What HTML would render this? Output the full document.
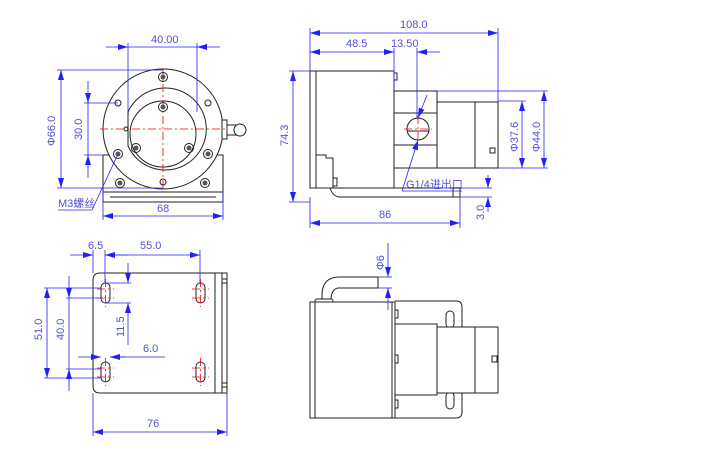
<!DOCTYPE html>
<html><head><meta charset="utf-8"><style>
html,body{margin:0;padding:0;background:#fff;}
svg{display:block}
text{font-family:"Liberation Sans","Noto Sans CJK SC",sans-serif;fill:#5050e0;font-size:11px}
.k{stroke:#222;fill:none;stroke-width:1}
.kw{stroke:#222;fill:#fff;stroke-width:1}
.b{stroke:#2020ff;fill:none;stroke-width:0.8}
.r{stroke:#f00;fill:none;stroke-width:0.8;stroke-dasharray:8 3 2 3}
.ar{fill:#2020ff}
</style></head><body>
<svg width="706" height="456" viewBox="0 0 706 456" xmlns="http://www.w3.org/2000/svg">
<defs>
<marker id="a" markerWidth="10" markerHeight="6" refX="10" refY="3" orient="auto" markerUnits="userSpaceOnUse"><path d="M0,0L10,3L0,6z" fill="#2020ff"/></marker>
<marker id="s" markerWidth="10" markerHeight="6" refX="0" refY="3" orient="auto" markerUnits="userSpaceOnUse"><path d="M10,0L0,3L10,6z" fill="#2020ff"/></marker>
<g id="scr"><circle r="4.5" class="k" fill="#fff"/><circle r="2.5" fill="#555"/></g>
</defs>

<!-- ===== Front view (top-left) ===== -->
<rect x="103" y="155" width="120" height="37" class="kw"/>
<rect x="103" y="192" width="120" height="10" class="kw"/>
<line x1="110" y1="197" x2="216" y2="197" class="k"/>
<circle cx="163" cy="129" r="60" class="kw"/>
<path d="M128,112 A41,41 0 1 1 128,146 Z" class="k"/>
<circle cx="163" cy="134" r="33" class="k"/>
<rect x="222" y="120" width="5" height="19" class="kw"/>
<path d="M227,125 L238,125 M227,135 L238,135" class="k"/>
<circle cx="240" cy="130" r="6" class="kw"/>
<circle cx="126" cy="129" r="2" class="k"/>
<line x1="100" y1="129" x2="228" y2="129" class="r"/>
<line x1="163" y1="68" x2="163" y2="192" class="r"/>
<use href="#scr" x="163" y="77"/><use href="#scr" x="163" y="107"/>
<use href="#scr" x="136" y="148"/><use href="#scr" x="189" y="148"/>
<use href="#scr" x="118" y="154"/><use href="#scr" x="208" y="154"/>
<use href="#scr" x="120" y="183"/><use href="#scr" x="205" y="183"/>
<circle cx="118" cy="103" r="3" class="k"/><circle cx="208" cy="103" r="3" class="k"/>
<circle cx="163" cy="182" r="3" class="k"/>
<!-- dims -->
<line x1="128" y1="43" x2="128" y2="112" class="b"/><line x1="197" y1="43" x2="197" y2="112" class="b"/>
<line x1="106" y1="47" x2="128" y2="47" class="b" marker-end="url(#a)"/>
<line x1="128" y1="47" x2="197" y2="47" class="b"/>
<line x1="220" y1="47" x2="197" y2="47" class="b" marker-end="url(#a)"/>
<text x="151" y="43">40.00</text>
<line x1="57" y1="70" x2="163" y2="70" class="b"/><line x1="57" y1="188" x2="163" y2="188" class="b"/>
<line x1="61" y1="70" x2="61" y2="188" class="b" marker-start="url(#s)" marker-end="url(#a)"/>
<text transform="translate(55,146) rotate(-90)">Φ66.0</text>
<line x1="84" y1="103" x2="118" y2="103" class="b"/><line x1="84" y1="155" x2="103" y2="155" class="b"/>
<line x1="88" y1="81" x2="88" y2="103" class="b" marker-end="url(#a)"/>
<line x1="88" y1="103" x2="88" y2="155" class="b"/>
<line x1="88" y1="178" x2="88" y2="155" class="b" marker-end="url(#a)"/>
<text transform="translate(82,140) rotate(-90)">30.0</text>
<line x1="103" y1="192" x2="103" y2="220" class="b"/><line x1="223" y1="192" x2="223" y2="220" class="b"/>
<line x1="103" y1="216" x2="223" y2="216" class="b" marker-start="url(#s)" marker-end="url(#a)"/>
<text x="157" y="212">68</text>
<line x1="118" y1="154" x2="92" y2="210" class="b"/><line x1="92" y1="210" x2="58" y2="210" class="b"/>
<text x="58" y="207" font-size="10">M3螺丝</text>

<!-- ===== Side view (top-right) ===== -->
<rect x="310" y="71" width="84" height="117" class="kw"/>
<line x1="316" y1="71" x2="316" y2="188" class="k"/>
<path d="M316,155 L326,155 L326,158 L333,158 L333,188" class="k"/>
<path d="M310,188 L330,188 Q333,197 340,197 L460,197 L460,188 L340,188" class="k"/>
<line x1="453" y1="188" x2="453" y2="197" class="k"/>
<path d="M394,73 L397,73 L397,80 L394,80 M394,150 L397,150 L397,157 L394,157" class="k"/>
<rect x="333" y="178" width="4" height="8" class="k"/>
<rect x="394" y="91" width="43" height="77" class="kw"/>
<line x1="394" y1="113" x2="437" y2="113" class="k"/><line x1="394" y1="145" x2="437" y2="145" class="k"/>
<circle cx="418" cy="129" r="11" class="kw"/>
<line x1="407" y1="131" x2="429" y2="131" class="k"/>
<line x1="404" y1="129" x2="432" y2="129" class="r" stroke-dasharray="4 2"/>
<line x1="418" y1="116" x2="418" y2="142" class="r" stroke-dasharray="4 2"/>
<rect x="437" y="102" width="61" height="66" class="kw"/>
<line x1="475" y1="102" x2="475" y2="168" class="k"/>
<rect x="490" y="148" width="5" height="5" class="k"/>
<!-- dims -->
<line x1="310" y1="28" x2="310" y2="71" class="b"/><line x1="498" y1="28" x2="498" y2="102" class="b"/>
<line x1="310" y1="33" x2="498" y2="33" class="b" marker-start="url(#s)" marker-end="url(#a)"/>
<text x="400" y="28">108.0</text>
<line x1="394" y1="48" x2="394" y2="91" class="b"/><line x1="417" y1="48" x2="417" y2="118" class="b"/>
<line x1="310" y1="52" x2="394" y2="52" class="b" marker-start="url(#s)" marker-end="url(#a)"/>
<line x1="440" y1="52" x2="417" y2="52" class="b" marker-end="url(#a)"/>
<text x="346" y="47">48.5</text><text x="391" y="47">13.50</text>
<line x1="289" y1="71" x2="310" y2="71" class="b"/><line x1="289" y1="202" x2="310" y2="202" class="b"/>
<line x1="293" y1="71" x2="293" y2="202" class="b" marker-start="url(#s)" marker-end="url(#a)"/>
<text transform="translate(288,146) rotate(-90)">74.3</text>
<line x1="310" y1="197" x2="310" y2="228" class="b"/><line x1="460" y1="197" x2="460" y2="228" class="b"/>
<line x1="310" y1="223" x2="460" y2="223" class="b" marker-start="url(#s)" marker-end="url(#a)"/>
<text x="379" y="218">86</text>
<line x1="460" y1="188" x2="492" y2="188" class="b"/><line x1="460" y1="197" x2="492" y2="197" class="b"/>
<line x1="488" y1="175" x2="488" y2="188" class="b" marker-end="url(#a)"/>
<line x1="488" y1="212" x2="488" y2="197" class="b" marker-end="url(#a)"/>
<text transform="translate(484,220) rotate(-90)" font-size="10">3.0</text>
<line x1="498" y1="101" x2="526" y2="101" class="b"/><line x1="498" y1="168" x2="548" y2="168" class="b"/>
<line x1="437" y1="91" x2="548" y2="91" class="b"/>
<line x1="522" y1="101" x2="522" y2="168" class="b" marker-start="url(#s)" marker-end="url(#a)"/>
<line x1="544" y1="91" x2="544" y2="168" class="b" marker-start="url(#s)" marker-end="url(#a)"/>
<text transform="translate(518,152) rotate(-90)">Φ37.6</text>
<text transform="translate(540,152) rotate(-90)">Φ44.0</text>
<line x1="427" y1="95" x2="418" y2="118" class="b" marker-end="url(#a)"/>
<line x1="402" y1="191" x2="418" y2="140" class="b" marker-end="url(#a)"/>
<line x1="402" y1="191" x2="462" y2="191" class="b"/>
<text x="406" y="188" font-size="10">G1/4进出口</text>

<!-- ===== Bottom view (bottom-left) ===== -->
<path d="M100,273 L227,273 L227,393 L100,393 Q93,393 93,386 L93,280 Q93,273 100,273 Z" class="kw"/>
<line x1="215" y1="273" x2="215" y2="393" class="k"/><line x1="222" y1="273" x2="222" y2="393" class="k"/>
<rect x="222" y="279" width="5" height="4" class="k"/><rect x="222" y="383" width="5" height="4" class="k"/>
<g id="slot"><rect x="101" y="283" width="9" height="20" rx="4.5" class="k"/><line x1="97" y1="289" x2="114" y2="289" class="r" stroke-dasharray="2 2"/><line x1="97" y1="298" x2="114" y2="298" class="r" stroke-dasharray="2 2"/><line x1="105.5" y1="279" x2="105.5" y2="307" class="r" stroke-dasharray="3 2"/></g>
<use href="#slot" x="95"/><use href="#slot" y="79"/><use href="#slot" x="95" y="79"/>
<line x1="93" y1="250" x2="93" y2="273" class="b"/><line x1="105" y1="250" x2="105" y2="283" class="b"/>
<line x1="200" y1="250" x2="200" y2="283" class="b"/>
<line x1="70" y1="255" x2="93" y2="255" class="b" marker-end="url(#a)"/>
<line x1="128" y1="255" x2="105" y2="255" class="b" marker-end="url(#a)"/>
<line x1="105" y1="255" x2="200" y2="255" class="b" marker-end="url(#a)"/>
<text x="88" y="249">6.5</text><text x="140" y="249">55.0</text>
<line x1="105" y1="283" x2="131" y2="283" class="b"/><line x1="105" y1="303" x2="131" y2="303" class="b"/>
<line x1="128" y1="263" x2="128" y2="283" class="b" marker-end="url(#a)"/>
<line x1="128" y1="345" x2="128" y2="303" class="b" marker-end="url(#a)"/>
<text transform="translate(124,337) rotate(-90)">11.5</text>
<line x1="44" y1="288" x2="101" y2="288" class="b"/><line x1="44" y1="378" x2="101" y2="378" class="b"/>
<line x1="47" y1="288" x2="47" y2="378" class="b" marker-start="url(#s)" marker-end="url(#a)"/>
<text transform="translate(42,340) rotate(-90)">51.0</text>
<line x1="66" y1="298" x2="101" y2="298" class="b"/><line x1="66" y1="369" x2="101" y2="369" class="b"/>
<line x1="69" y1="276" x2="69" y2="298" class="b" marker-end="url(#a)"/>
<line x1="69" y1="298" x2="69" y2="369" class="b"/>
<line x1="69" y1="391" x2="69" y2="369" class="b" marker-end="url(#a)"/>
<text transform="translate(64,340) rotate(-90)">40.0</text>
<line x1="78" y1="357" x2="101" y2="357" class="b" marker-end="url(#a)"/>
<line x1="126" y1="357" x2="110" y2="357" class="b" marker-end="url(#a)"/>
<line x1="110" y1="357" x2="165" y2="357" class="b"/>
<text x="143" y="352">6.0</text>
<line x1="93" y1="393" x2="93" y2="436" class="b"/><line x1="227" y1="393" x2="227" y2="436" class="b"/>
<line x1="93" y1="432" x2="227" y2="432" class="b" marker-start="url(#s)" marker-end="url(#a)"/>
<text x="147" y="427">76</text>

<!-- ===== Top view (bottom-right) ===== -->
<path d="M395,301 L456,301 Q462,301 462,307 L462,412 Q462,418 456,418 L395,418" class="kw"/>
<rect x="446" y="311" width="8" height="17" rx="4" class="kw"/>
<rect x="446" y="392" width="8" height="17" rx="4" class="kw"/>
<rect x="395" y="324" width="42" height="71" class="kw"/>
<rect x="437" y="327" width="61" height="66" class="kw"/>
<line x1="475" y1="327" x2="475" y2="393" class="k"/>
<rect x="492" y="356" width="5" height="6" class="k"/>
<path d="M322,301 L322,295 Q322,278 338,277 L378,277 L378,288 L338,288 Q331,289 331,301" class="kw"/>
<rect x="315" y="299" width="18" height="4" rx="2" class="kw"/>
<rect x="310" y="302" width="85" height="116" class="kw"/>
<line x1="315" y1="302" x2="315" y2="418" class="k"/>
<line x1="392" y1="302" x2="392" y2="418" class="k"/>
<path d="M395,310 L398,310 L398,318 L395,318 M395,355 L398,355 L398,363 L395,363 M395,400 L398,400 L398,408 L395,408" class="k"/>
<line x1="378" y1="277" x2="392" y2="277" class="b"/><line x1="378" y1="288" x2="392" y2="288" class="b"/>
<line x1="388" y1="243" x2="388" y2="277" class="b" marker-end="url(#a)"/>
<line x1="388" y1="310" x2="388" y2="288" class="b" marker-end="url(#a)"/>
<text transform="translate(384,270) rotate(-90)" font-size="10">Φ6</text>
</svg>
</body></html>
